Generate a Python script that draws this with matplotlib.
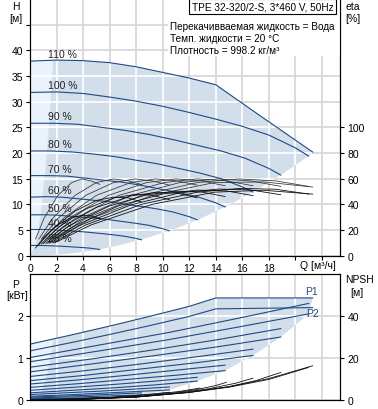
import matplotlib.pyplot as plt
from matplotlib.patches import Polygon, Rectangle

plt.rcParams['font.family'] = ['Liberation Sans', 'DejaVu Sans']

BLUE = '#1f4a86'
SHADE = '#d2deea'
LIGHT = '#eaf3fb'
GRID = '#d6d6d6'

speed_labels = ['110 %', '100 %', '90 %', '80 %', '70 %', '60 %', '50 %', '40 %', '25 %']

# кривые H(Q) для каждой скорости
hq_q = [
    [0, 2, 4, 6, 8, 10, 12, 14, 17.6, 21.3],
    [0, 2, 4, 6, 8, 10, 12, 14, 16, 18, 20, 21.0],
    [0, 1.8, 3.6, 5.4, 7.2, 9.0, 10.8, 12.6, 14.4, 16.2, 18.0, 18.9],
    [0, 1.6, 3.2, 4.8, 6.4, 8.0, 9.6, 11.2, 12.8, 14.4, 16.0, 16.8],
    [0, 1.4, 2.8, 4.2, 5.6, 7.0, 8.4, 9.8, 11.2, 12.6, 14.0, 14.7],
    [0, 1.2, 2.4, 3.6, 4.8, 6.0, 7.2, 8.4, 9.6, 10.8, 12.0, 12.6],
    [0, 1.0, 2.0, 3.0, 4.0, 5.0, 6.0, 7.0, 8.0, 9.0, 10.0, 10.5],
    [0, 0.8, 1.6, 2.4, 3.2, 4.0, 4.8, 5.6, 6.4, 7.2, 8.0, 8.4],
    [0, 0.5, 1.0, 1.5, 2.0, 2.5, 3.0, 3.5, 4.0, 4.5, 5.0, 5.25],
]
hq_h = [
    [37.9, 38.1, 38.0, 37.6, 36.8, 35.7, 34.6, 33.3, 26.8, 20.2],
    [31.8, 31.9, 31.6, 30.9, 30.1, 29.1, 27.9, 26.6, 25.2, 23.5, 21.0, 19.4],
    [25.8, 25.8, 25.6, 25.0, 24.4, 23.6, 22.6, 21.5, 20.4, 19.0, 17.0, 15.7],
    [20.4, 20.4, 20.2, 19.8, 19.3, 18.6, 17.9, 17.0, 16.1, 15.0, 13.4, 12.4],
    [15.6, 15.6, 15.5, 15.1, 14.7, 14.3, 13.7, 13.0, 12.3, 11.5, 10.3, 9.5],
    [11.4, 11.5, 11.4, 11.1, 10.8, 10.5, 10.0, 9.6, 9.1, 8.5, 7.6, 7.0],
    [7.95, 7.98, 7.9, 7.7, 7.5, 7.3, 7.0, 6.65, 6.3, 5.9, 5.25, 4.85],
    [5.1, 5.1, 5.06, 4.94, 4.8, 4.66, 4.46, 4.26, 4.03, 3.76, 3.36, 3.1],
    [2.0, 2.0, 1.98, 1.93, 1.88, 1.82, 1.74, 1.66, 1.58, 1.47, 1.31, 1.21],
]

# граница рабочей области (нижняя) и мин. подача
env_q = [21.3, 21.0, 19.0, 17.0, 15.0, 13.0, 11.0, 9.0, 7.0, 5.0, 3.0, 1.0, 0.0]
env_h = [20.2, 19.4, 15.9, 12.7, 9.9, 7.4, 5.3, 3.6, 2.2, 1.1, 0.4, 0.05, 0.0]
qmin_q = [0, 0.4, 0.8, 1.2, 1.5, 1.75]
qmin_h = [0, 2.0, 7.9, 17.9, 27.9, 38.1]

# КПД (eta) : два семейства
eta_q = [
    [1.85, 4.6, 9.2, 13.9, 17.6, 21.3],
    [1.7, 4.2, 8.4, 12.6, 15.75, 18.5, 21.0],
    [1.5, 3.8, 7.6, 11.3, 14.2, 16.6, 18.9],
    [1.35, 3.4, 6.7, 10.1, 12.6, 14.8, 16.8],
    [1.2, 2.9, 5.9, 8.8, 11.0, 12.9, 14.7],
    [1.0, 2.5, 5.0, 7.6, 9.45, 11.1, 12.6],
    [0.85, 2.1, 4.2, 6.3, 7.9, 9.2, 10.5],
    [0.67, 1.7, 3.4, 5.0, 6.3, 7.4, 8.4],
    [0.42, 1.05, 2.1, 3.15, 3.9, 4.6, 5.25],
]
eta_a = [
    [13, 29, 47, 57, 57.5, 53.5],
    [13, 29, 47, 57, 59.8, 58.3, 54],
    [13, 29, 47, 57, 59.8, 58.3, 54],
    [13, 29, 47, 57, 59.8, 58.3, 54.5],
    [13, 29, 47, 57, 59.8, 58.3, 54.5],
    [13, 29, 47, 57, 59.8, 58.3, 55],
    [13, 29, 47, 57, 59.8, 58.3, 55],
    [13, 29, 47, 57, 59.8, 58.3, 55.5],
    [13, 29, 47, 57, 59.8, 58.3, 55.6],
]
eta_b = [
    [10, 24, 40, 49.5, 51, 48],
    [10, 24, 40, 49.5, 52.4, 51.8, 48],
    [9.9, 23.8, 39.6, 49.0, 51.9, 51.3, 47.5],
    [9.8, 23.4, 39.0, 48.3, 51.1, 50.5, 46.8],
    [9.6, 23.0, 38.4, 47.5, 50.3, 49.7, 46.1],
    [9.4, 22.6, 37.6, 46.5, 49.3, 48.7, 45.1],
    [9.1, 21.8, 36.4, 45.0, 47.7, 47.1, 43.7],
    [8.7, 20.9, 34.8, 43.1, 45.6, 45.1, 41.8],
    [6.0, 14.4, 24.0, 29.7, 31.4, 31.1, 28.8],
]

# мощность P1 / P2
p_q = [
    [0, 3, 6, 9, 12, 14, 21.3],
    [0, 5.25, 10.5, 15.75, 21.0],
    [0, 4.7, 9.45, 14.2, 18.9],
    [0, 4.2, 8.4, 12.6, 16.8],
    [0, 3.7, 7.35, 11.0, 14.7],
    [0, 3.15, 6.3, 9.45, 12.6],
    [0, 2.6, 5.25, 7.9, 10.5],
    [0, 2.1, 4.2, 6.3, 8.4],
    [0, 1.3, 2.6, 3.9, 5.25],
]
p1 = [
    [1.33, 1.54, 1.76, 1.99, 2.23, 2.43, 2.43],
    [1.01, 1.31, 1.61, 1.95, 2.30],
    [0.78, 0.98, 1.20, 1.44, 1.70],
    [0.56, 0.70, 0.86, 1.03, 1.21],
    [0.38, 0.48, 0.59, 0.71, 0.83],
    [0.23, 0.30, 0.37, 0.45, 0.54],
    [0.13, 0.17, 0.21, 0.26, 0.31],
    [0.07, 0.09, 0.11, 0.14, 0.17],
    [0.03, 0.035, 0.04, 0.05, 0.06],
]
p2 = [
    [1.17, 1.36, 1.56, 1.77, 1.99, 2.17, 2.20],
    [0.91, 1.17, 1.44, 1.74, 2.05],
    [0.67, 0.86, 1.06, 1.27, 1.50],
    [0.46, 0.59, 0.74, 0.89, 1.06],
    [0.30, 0.39, 0.49, 0.59, 0.70],
    [0.17, 0.23, 0.29, 0.36, 0.45],
    [0.09, 0.12, 0.16, 0.20, 0.24],
    [0.05, 0.065, 0.08, 0.10, 0.12],
    [0.015, 0.02, 0.025, 0.03, 0.035],
]
penv_q = [21.3, 21.0, 18.9, 16.8, 14.7, 12.6, 10.5, 8.4, 5.25, 0]
penv_p = [2.43, 2.05, 1.50, 1.06, 0.70, 0.45, 0.24, 0.12, 0.035, 0.015]
pmin_q = [0, 0.4, 0.64, 0.8, 0.95, 1.11, 1.27, 1.43, 1.59, 1.75]
pmin_p = [0.015, 0.03, 0.075, 0.14, 0.25, 0.41, 0.6, 0.84, 1.1, 1.46]

# NPSH
npsh_q = [
    [0, 4, 8, 12, 15, 18, 21.3],
    [0, 4, 8, 12, 15, 18, 21.0],
    [0, 4, 8, 12, 15, 17, 18.9],
    [0, 4, 8, 11, 13.5, 15.5, 16.8],
    [0, 4, 8, 10.5, 12.5, 14.0, 14.8],
    [0, 4, 7, 9.5, 11.3, 12.8],
    [0, 3, 6, 8, 9.4, 10.5],
    [0, 3, 5, 6.5, 7.6, 8.4],
    [0, 2, 3.5, 4.5, 5.25],
]
npsh_v = [
    [0.1, 0.4, 1.4, 3.6, 6.3, 10.2, 16.3],
    [0.1, 0.4, 1.4, 3.6, 6.1, 9.8, 15.5],
    [0.1, 0.4, 1.4, 3.7, 6.4, 9.2, 13.1],
    [0.1, 0.4, 1.5, 3.2, 5.4, 8.0, 10.4],
    [0.1, 0.4, 1.6, 3.1, 4.9, 6.9, 8.4],
    [0.1, 0.5, 1.5, 2.8, 4.1, 5.7],
    [0.1, 0.4, 1.3, 2.2, 3.0, 3.7],
    [0.1, 0.4, 0.9, 1.3, 1.7, 2.0],
    [0.05, 0.2, 0.5, 0.8, 1.0],
]

x_ticks = list(range(0, 23, 2))
x_labels = [str(t) if t <= 18 else '' for t in x_ticks]


def white_grid(ax, patch, xs, ys):
    # сетка внутри закрашенной области выглядит белой
    for x in xs:
        ln = ax.axvline(x, color='white', lw=1.2, zorder=1.3)
        ln.set_clip_path(patch)
    for y in ys:
        ln = ax.axhline(y, color='white', lw=1.2, zorder=1.3)
        ln.set_clip_path(patch)


W, H = 378, 410
fig = plt.figure(figsize=(W / 100, H / 100), dpi=100)

# ---------- верхний график H / eta ----------
ax = fig.add_axes([30 / W, 1 - 256.7 / H, 310.5 / W, 256.7 / H])
ax.set_xlim(0, 23.4)
ax.set_ylim(0, 50)
ax.set_axisbelow(True)
ax.grid(True, color=GRID, lw=1.2)
ax.set_xticks(x_ticks)
ax.set_xticklabels(x_labels)
ax.set_yticks(range(0, 50, 5))
ax.set_yticklabels([str(t) if t <= 40 else '' for t in range(0, 50, 5)])
ax.tick_params(direction='out', length=3, width=0.8, labelsize=7.5, pad=2)
ax.spines['top'].set_visible(False)

shade = Polygon(list(zip(hq_q[0], hq_h[0])) + list(zip(env_q, env_h)),
                closed=True, fc=SHADE, ec='none', zorder=1)
ax.add_patch(shade)
ax.add_patch(Polygon(list(zip(qmin_q, qmin_h)) + [(0, hq_h[0][0])],
                     closed=True, fc=LIGHT, ec='none', zorder=1.1))
white_grid(ax, shade, x_ticks[1:], range(5, 50, 5))

for lab, q, h in zip(speed_labels, hq_q, hq_h):
    ax.plot(q, h, color=BLUE, lw=0.8, zorder=2)
    ax.annotate(lab, xy=(0, h[0]), xytext=(13, 5), textcoords='offset points',
                fontsize=7.5, color='#222222', va='center', zorder=4)

ax.add_patch(Rectangle((0.444, 0.778), 0.556, 0.222, transform=ax.transAxes,
                       fc='white', ec='none', zorder=3))

ax2 = ax.twinx()
ax2.set_ylim(0, 200)
ax2.set_yticks(range(0, 101, 20))
ax2.tick_params(direction='out', length=3, width=0.8, labelsize=7.5, pad=2)
ax2.spines['top'].set_visible(False)
for q, a, b in zip(eta_q, eta_a, eta_b):
    ax2.plot(q, a, color='#333333', lw=0.55)
    ax2.plot(q, b, color='#111111', lw=0.6)

# ---------- нижний график P / NPSH ----------
ax3 = fig.add_axes([30 / W, 1 - 401 / H, 310.5 / W, 126 / H])
ax3.set_xlim(0, 23.4)
ax3.set_ylim(0, 3)
ax3.set_axisbelow(True)
ax3.set_xticks(x_ticks)
ax3.set_xticklabels([])
ax3.set_yticks([0, 1, 2])
ax3.grid(True, color=GRID, lw=1.2)
ax3.tick_params(direction='out', length=3, width=0.8, labelsize=7.5, pad=2)
ax3.tick_params(axis='x', length=0)

pshade = Polygon(list(zip(p_q[0], p1[0])) + list(zip(penv_q, penv_p)),
                 closed=True, fc=SHADE, ec='none', zorder=1)
ax3.add_patch(pshade)
ax3.add_patch(Polygon(list(zip(pmin_q, pmin_p)) + [(0, p1[0][0])],
                      closed=True, fc=LIGHT, ec='none', zorder=1.1))
white_grid(ax3, pshade, x_ticks[1:], [1, 2])

for q, a, b in zip(p_q, p1, p2):
    ax3.plot(q, a, color=BLUE, lw=0.8, zorder=2)
    ax3.plot(q, b, color=BLUE, lw=0.8, zorder=2)
ax3.text(21.2, 2.59, 'P1', color=BLUE, fontsize=7.5, ha='center', va='center')
ax3.text(21.3, 2.06, 'P2', color=BLUE, fontsize=7.5, ha='center', va='center')

ax4 = ax3.twinx()
ax4.set_ylim(0, 60)
ax4.set_yticks([0, 20, 40])
ax4.tick_params(direction='out', length=3, width=0.8, labelsize=7.5, pad=2)
for q, v in zip(npsh_q, npsh_v):
    ax4.plot(q, v, color='#111111', lw=0.6)

# ---------- подписи ----------
fs = 7.5
fig.text(15.5 / W, 1 - 7 / H, 'H', fontsize=fs, ha='center', va='center')
fig.text(15.5 / W, 1 - 19 / H, '[м]', fontsize=fs, ha='center', va='center')
fig.text(353 / W, 1 - 7 / H, 'eta', fontsize=fs, ha='center', va='center')
fig.text(353 / W, 1 - 18.5 / H, '[%]', fontsize=fs, ha='center', va='center')
fig.text(318 / W, 1 - 266 / H, 'Q [м³/ч]', fontsize=fs, ha='center', va='center')
fig.text(15.5 / W, 1 - 285 / H, 'P', fontsize=fs, ha='center', va='center')
fig.text(17 / W, 1 - 296 / H, '[кВт]', fontsize=fs, ha='center', va='center')
fig.text(360 / W, 1 - 280 / H, 'NPSH', fontsize=fs, ha='center', va='center')
fig.text(357 / W, 1 - 293 / H, '[м]', fontsize=fs, ha='center', va='center')

fig.text(262.5 / W, 1 - 7 / H, 'TPE 32-320/2-S, 3*460 V, 50Hz', fontsize=7.2,
         ha='center', va='center',
         bbox=dict(boxstyle='square,pad=0.25', fc='white', ec='black', lw=0.8))
info = ['Перекачивваемая жидкость = Вода',
        'Темп. жидкости = 20 °C',
        'Плотность = 998.2 кг/м³']
for i, line in enumerate(info):
    fig.text(170 / W, 1 - (26.7 + 12 * i) / H, line, fontsize=7.2, ha='left', va='center')

fig.savefig('out.png', dpi=100)
